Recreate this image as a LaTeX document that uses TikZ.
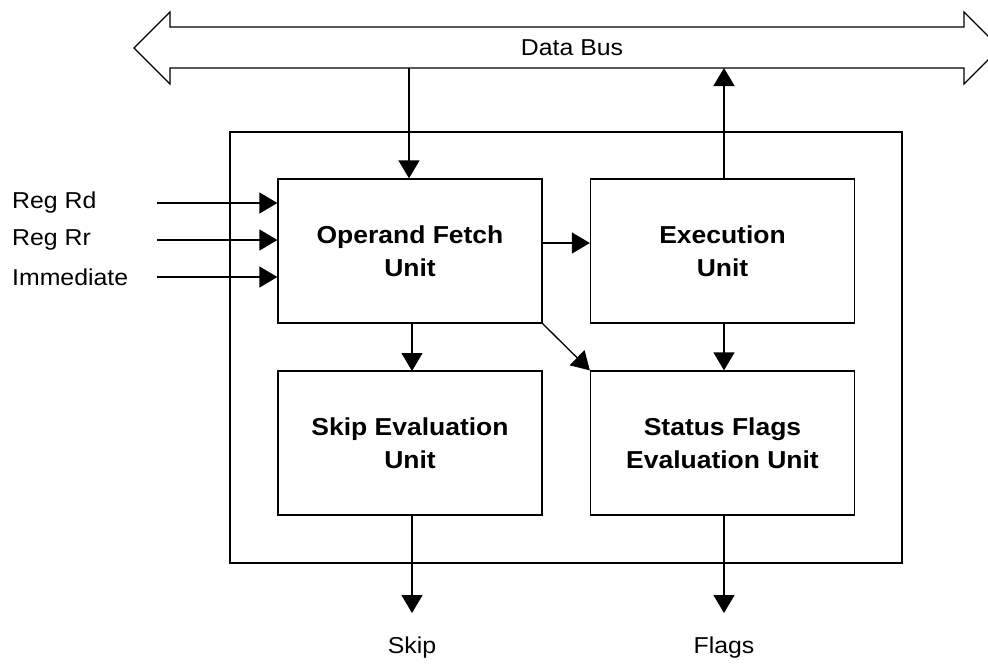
\documentclass[tikz,border=0pt]{standalone}
\usepackage{fontspec}
\setmainfont[FakeStretch=1.08]{Liberation Sans}
\usetikzlibrary{arrows.meta}
\tikzset{
  ln/.style={line width=1.3pt},
  arr/.style={ln,-{Triangle[length=18pt,width=21pt]}},
  unitbox/.style={draw,ln,minimum width=264pt,minimum height=144pt,inner sep=0pt,
    align=center,font=\fontsize{24.5}{33}\selectfont\bfseries},
  lbl/.style={font=\fontsize{23}{28}\selectfont,inner sep=0pt}
}
\begin{document}
\begin{tikzpicture}[x=1pt,y=-1pt]
\useasboundingbox (0,0) rectangle (988,664);
\clip (0,0) rectangle (988,664);
% data bus
\draw[ln,line join=miter] (134,48) -- (170,12) -- (170,27) -- (964,27) -- (964,12) -- (1000,48)
  -- (964,84) -- (964,68) -- (170,68) -- (170,84) -- cycle;
\node[lbl] (bus) at (572,48) {Data Bus};
\coordinate (busdown) at (409,68);
\coordinate (busup) at (724,68);
% outer box
\draw[ln] (230,132) rectangle (902,563);
% units
\node[unitbox] (op) at (410,251) {Operand Fetch\\Unit};
\node[unitbox] (ex) at (722.5,251) {Execution\\Unit};
\node[unitbox] (sk) at (410,443) {Skip Evaluation\\Unit};
\node[unitbox] (sf) at (722.5,443) {Status Flags\\Evaluation Unit};
% inputs
\node[lbl,anchor=west] (rd) at (12,203) {Reg Rd};
\node[lbl,anchor=west] (rr) at (12,240) {Reg Rr};
\node[lbl,anchor=west] (im) at (12,277) {Immediate};
\coordinate (rdS) at (157,203);
\coordinate (rrS) at (157,240);
\coordinate (imS) at (157,277);
\draw[arr] (rdS) -- (rdS -| op.west);
\draw[arr] (rrS) -- (rrS -| op.west);
\draw[arr] (imS) -- (imS -| op.west);
% bus connections
\draw[arr] (busdown) -- (busdown |- op.north);
\draw[arr] (busup |- ex.north) -- (busup);
% internal
\coordinate (mid) at (0,243);
\draw[arr] (mid -| op.east) -- (mid -| ex.west);
\draw[arr] (412,323) -- (412,371);
\draw[arr] (op.south east) -- (sf.north west);
\draw[arr] (ex.south -| 724,0) -- (sf.north -| 724,0);
% outputs
\node[lbl] (skip) at (412,648) {Skip};
\node[lbl] (flags) at (724,648) {Flags};
\draw[arr] (sk.south -| skip) -- (412,613);
\draw[arr] (sf.south -| flags) -- (724,613);
\end{tikzpicture}
\end{document}
